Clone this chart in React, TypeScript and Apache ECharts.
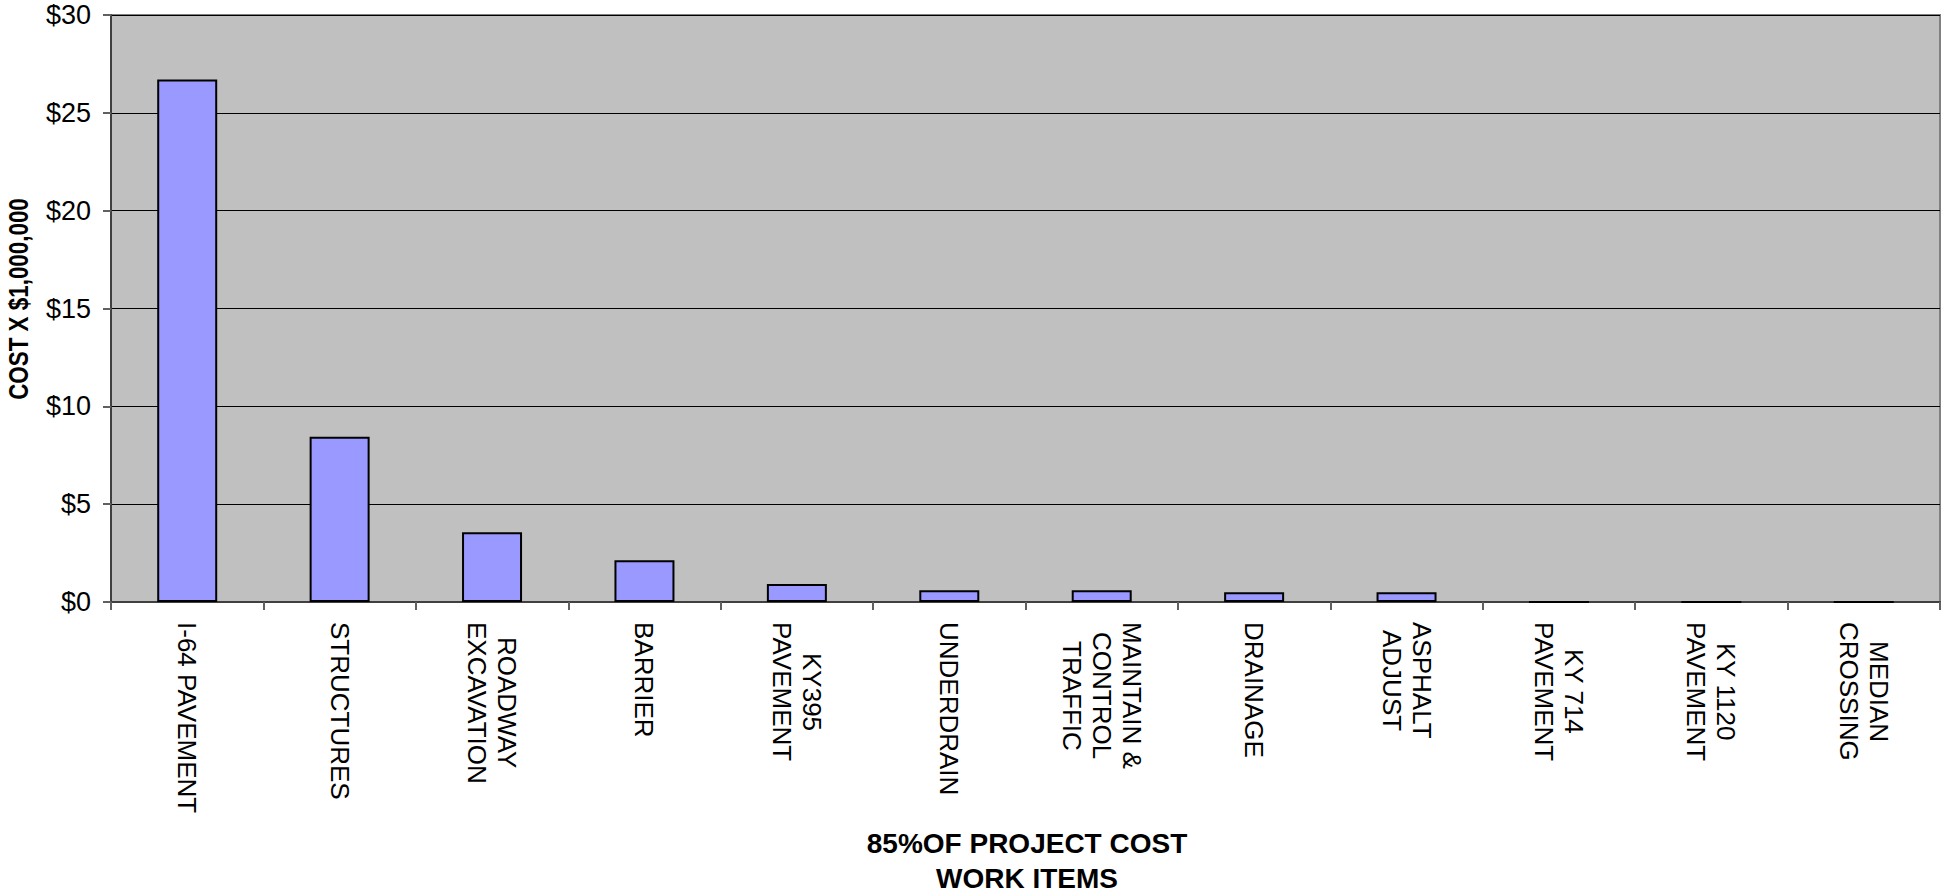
import React, { useEffect, useRef } from "react";
import * as echarts from "echarts";

const categories = [
  "I-64 PAVEMENT",
  "STRUCTURES",
  "ROADWAY\nEXCAVATION",
  "BARRIER",
  "KY395\nPAVEMENT",
  "UNDERDRAIN",
  "MAINTAIN &\nCONTROL\nTRAFFIC",
  "DRAINAGE",
  "ASPHALT\nADJUST",
  "KY 714\nPAVEMENT",
  "KY 1120\nPAVEMENT",
  "MEDIAN\nCROSSING",
];
const costs = [26.7, 8.45, 3.57, 2.13, 0.92, 0.6, 0.6, 0.5, 0.5, 0, 0, 0];
const yTitle = "COST X $1,000,000";
const xTitle = "85%OF PROJECT COST\nWORK ITEMS";

const FONT = '"Liberation Sans", Arial, Helvetica, sans-serif';
const LABEL_SIZE = 26;

export default function App() {
  const ref = useRef<HTMLDivElement>(null);
  useEffect(() => {
    if (!ref.current) return;

    // measure label lines so multi-line labels can be centred line by line
    const canvas = document.createElement("canvas");
    const ctx = canvas.getContext("2d");
    if (ctx) ctx.font = `${LABEL_SIZE}px ${FONT}`;
    const rich: Record<string, any> = {};
    categories.forEach((cat, ci) => {
      const lines = cat.split("\n");
      const widths = lines.map((l) => (ctx ? ctx.measureText(l).width : 0));
      const max = Math.max(...widths);
      lines.forEach((_, li) => {
        rich[`l${ci}_${li}`] = {
          fontFamily: FONT,
          fontSize: LABEL_SIZE,
          lineHeight: 30,
          color: "#000000",
          padding: [0, 0, 0, Math.round((max - widths[li]) / 2)],
        };
      });
    });

    const chart = echarts.init(ref.current, null, { renderer: "svg" });
    chart.setOption({
      animation: false,
      backgroundColor: "#ffffff",
      grid: {
        left: 111,
        right: 4,
        top: 15,
        bottom: 291,
        show: true,
        backgroundColor: "#c0c0c0",
        borderColor: "#808080",
        borderWidth: 2,
      },
      xAxis: {
        type: "category",
        data: categories,
        boundaryGap: true,
        axisLine: { show: true, lineStyle: { color: "#404040", width: 2 } },
        axisTick: { show: true, length: 8, lineStyle: { color: "#606060", width: 2 } },
        axisLabel: {
          interval: 0,
          rotate: -90,
          margin: 20,
          formatter: (v: string, idx: number) =>
            v
              .split("\n")
              .map((s, li) => `{l${idx}_${li}|${s}}`)
              .join("\n"),
          rich,
        },
      },
      yAxis: {
        type: "value",
        min: 0,
        max: 30,
        interval: 5,
        axisLine: { show: true, lineStyle: { color: "#404040", width: 2 } },
        axisTick: { show: true, length: 8, lineStyle: { color: "#606060", width: 2 } },
        axisLabel: {
          margin: 20,
          formatter: (v: number) => "$" + v,
          fontFamily: FONT,
          fontSize: 27,
          color: "#000000",
        },
        splitLine: { show: true, lineStyle: { color: "#000000", width: 1 } },
      },
      series: [
        {
          type: "bar",
          data: costs,
          barWidth: 60,
          itemStyle: { color: "#9999ff", borderColor: "#000000", borderWidth: 2 },
        },
      ],
      graphic: [
        {
          type: "text",
          x: 18,
          y: 299,
          rotation: Math.PI / 2,
          scaleX: 0.8,
          style: {
            text: yTitle,
            fontFamily: FONT,
            fontWeight: "bold",
            fontSize: 28,
            fill: "#000000",
            align: "center",
            verticalAlign: "middle",
          },
        },
        {
          type: "text",
          x: 1027,
          y: 861,
          style: {
            text: xTitle,
            fontFamily: FONT,
            fontWeight: "bold",
            fontSize: 28,
            lineHeight: 35,
            fill: "#000000",
            align: "center",
            verticalAlign: "middle",
          },
        },
      ],
    });
    return () => chart.dispose();
  }, []);
  return (
    <div
      ref={ref}
      style={{ position: "fixed", left: 0, top: 0, width: 1944, height: 893 }}
    />
  );
}
